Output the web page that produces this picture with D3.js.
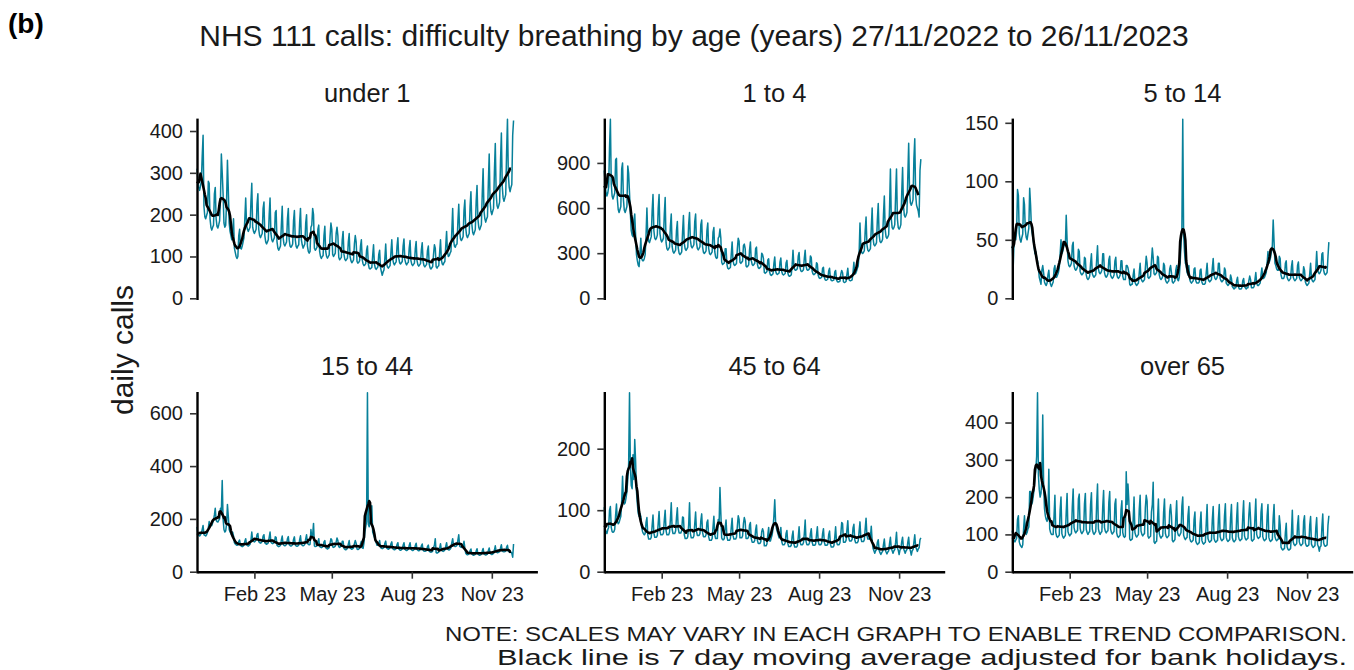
<!DOCTYPE html>
<html><head><meta charset="utf-8">
<script src="https://cdn.jsdelivr.net/npm/d3@7"></script>
<style>
body{margin:0;background:#fff}
svg{display:block}
text{font-family:"Liberation Sans",Arial,Helvetica,sans-serif}
</style>
</head><body>
<svg id="c" width="1354" height="670"></svg>
<script>
// ---------- data ----------
const startDate = [2022, 10, 27]; // 27/11/2022 (UTC y, m0, d)
const panelTitles = ["under 1", "1 to 4", "5 to 14", "15 to 44", "45 to 64", "over 65"];
const yTicks = [[0,100,200,300,400],[0,300,600,900],[0,50,100,150],[0,200,400,600],[0,100,200],[0,100,200,300,400]];
const xTickDates = ["2023-02-01","2023-05-01","2023-08-01","2023-11-01"];

const under1 = [
310,285,265,258,268,280,340,
390,220,195,190,198,205,280,
275,190,170,163,170,175,250,
265,190,172,168,176,185,240,
345,300,250,180,170,175,230,
330,260,180,160,150,140,160,
190,120,110,100,95,100,150,
165,120,118,125,135,145,190,
240,175,165,160,165,170,230,
275,170,160,155,160,165,225,
250,165,150,145,150,155,215,
230,150,135,130,135,140,200,
240,155,140,135,140,145,205,
210,135,120,115,120,125,175,
220,145,130,125,130,135,190,
215,140,125,122,125,130,185,
210,140,124,120,125,128,180,
215,140,128,120,125,130,180,
200,125,112,108,112,170,175,
215,200,120,115,118,122,165,
175,112,100,95,100,102,150,
172,112,100,96,100,104,148,
180,165,105,100,104,108,155,
170,150,98,92,95,98,140,
160,105,93,90,93,96,135,
155,100,90,85,88,92,130,
150,135,88,84,86,90,125,
140,92,82,78,80,83,115,
125,82,72,70,72,74,102,
128,82,72,69,72,75,105,
115,74,64,55,63,68,95,
130,84,75,72,75,78,110,
140,95,84,80,84,87,125,
145,96,85,82,85,88,125,
142,93,84,80,84,86,120,
138,90,81,78,81,84,118,
136,90,80,77,80,83,116,
133,88,78,75,78,81,114,
125,82,73,70,73,76,106,
128,120,75,72,76,78,110,
140,92,82,80,85,88,125,
160,112,100,102,108,112,160,
215,140,125,122,128,130,185,
225,160,142,138,142,148,210,
235,168,150,145,150,155,220,
255,178,158,152,158,164,232,
270,190,170,164,170,176,250,
310,210,190,182,190,195,275,
345,232,208,200,208,215,305,
370,250,222,215,222,230,328,
395,268,240,232,240,248,350,
428,295,265,255,265,272,390,
425];

const age1to4 = [
850,760,700,680,700,740,1000,
1190,760,680,660,680,700,920,
930,660,590,570,590,610,860,
900,655,585,570,590,610,880,
830,700,560,450,420,410,520,
560,420,290,250,220,210,300,
400,265,250,250,265,290,420,
600,420,380,370,390,410,580,
690,450,400,390,400,420,600,
690,430,390,375,385,400,560,
670,370,330,320,330,340,480,
560,345,310,300,310,320,450,
510,335,300,290,298,308,440,
550,365,328,318,328,340,490,
570,385,345,335,345,356,510,
560,370,332,322,332,343,490,
520,342,306,298,306,316,450,
500,332,298,290,298,308,440,
470,310,275,265,270,400,410,
460,400,240,225,230,235,330,
330,225,200,195,200,205,295,
375,250,225,218,225,232,330,
400,380,240,232,240,248,350,
360,330,215,208,214,222,320,
375,252,225,218,225,233,330,
340,228,204,198,204,210,300,
290,265,172,166,172,178,255,
263,176,157,152,157,163,230,
275,182,163,158,163,168,240,
268,178,160,155,160,165,235,
252,170,150,146,150,156,222,
320,214,190,186,190,198,280,
305,205,182,178,182,190,268,
320,214,190,186,190,198,282,
270,180,162,157,162,168,236,
228,152,136,132,136,141,200,
206,138,123,120,123,128,181,
200,133,119,116,119,123,175,
185,124,110,108,110,114,162,
185,170,110,105,108,112,160,
200,133,119,116,119,123,175,
240,160,165,180,200,215,300,
500,340,305,298,305,316,450,
540,356,320,312,320,330,468,
600,400,357,348,357,370,525,
630,423,378,370,378,392,556,
680,456,408,398,408,422,600,
860,530,470,460,470,490,690,
860,530,470,460,470,490,700,
870,617,552,540,552,572,810,
1030,708,633,618,633,656,930,
1060,690,620,600,580,540,850,
925];

const age5to14 = [
45,26,48,52,50,58,93,
88,55,50,48,52,55,86,
80,58,52,50,55,60,94,
80,60,55,50,45,38,40,
35,32,26,18,15,12,24,
28,22,14,12,11,13,20,
24,15,12,10,12,14,25,
28,18,18,20,22,26,38,
50,38,40,44,48,45,71,
50,32,28,27,28,30,45,
48,28,25,24,25,27,42,
40,23,21,20,21,22,35,
34,20,17,16,17,19,30,
38,21,19,18,19,20,33,
45,25,22,21,22,24,38,
38,22,19,18,19,21,33,
36,20,18,17,18,20,32,
35,21,18,17,18,20,32,
32,19,16,16,16,28,28,
26,22,12,11,12,12,20,
25,14,12,11,12,13,22,
30,17,15,14,15,16,26,
36,30,18,17,18,19,32,
43,35,21,20,21,22,36,
35,20,17,16,17,19,30,
28,16,14,13,14,15,25,
28,22,14,13,14,15,24,
28,16,15,18,30,45,60,
153,55,40,30,28,22,20,
28,16,14,13,14,15,25,
26,15,13,13,13,14,24,
25,14,12,12,12,13,22,
30,17,15,14,15,16,26,
34,20,17,16,17,19,30,
30,17,15,14,15,16,26,
24,13,12,11,12,13,20,
17,10,9,8,9,9,15,
18,10,8,8,8,9,15,
17,10,9,8,9,9,15,
19,16,9,9,9,10,16,
22,13,11,11,12,13,20,
26,17,17,18,20,22,30,
40,30,32,35,40,45,67,
48,30,28,25,24,24,36,
34,20,17,17,17,19,30,
32,18,16,15,16,17,27,
32,18,16,15,16,17,28,
31,18,16,15,16,17,27,
24,14,12,11,12,13,21,
30,17,15,14,15,16,26,
40,25,22,21,22,24,38,
39,24,21,20,21,22,36,
48];

const age15to44 = [
170,140,138,135,140,145,160,
175,140,138,135,140,148,165,
190,170,175,175,185,195,215,
240,195,190,188,195,200,240,
230,345,200,160,150,155,180,
255,210,160,150,145,140,150,
135,110,105,102,100,102,115,
120,100,97,95,97,100,115,
125,102,99,97,100,104,118,
150,118,115,113,116,120,140,
145,114,110,108,110,115,135,
140,110,106,104,106,110,130,
150,112,108,106,108,112,132,
130,100,97,95,97,100,120,
135,104,100,98,100,104,125,
133,102,99,97,99,102,122,
132,101,98,96,98,101,120,
136,104,100,98,100,104,124,
140,108,104,102,104,160,130,
140,183,98,95,96,98,112,
125,96,93,91,93,96,113,
118,91,88,86,88,91,108,
125,120,94,92,94,97,112,
128,118,95,92,95,98,115,
115,88,85,83,85,88,104,
118,90,87,85,87,90,106,
118,108,86,84,86,89,105,
115,90,88,110,150,170,190,
678,180,170,190,215,250,150,
140,130,120,110,100,100,105,
118,92,89,87,89,92,108,
116,90,87,85,87,90,106,
113,87,85,83,85,87,103,
110,86,83,81,83,86,100,
110,85,82,80,82,85,99,
110,85,82,80,82,85,99,
108,84,81,79,81,84,98,
105,81,78,77,78,81,95,
101,78,75,74,75,78,92,
100,125,72,70,72,74,88,
106,82,79,77,79,82,96,
110,86,83,82,85,90,110,
125,100,96,95,97,100,120,
140,97,94,92,94,97,115,
90,70,66,64,66,68,80,
86,67,64,62,64,66,78,
87,67,64,62,64,66,78,
88,68,65,63,65,67,80,
90,70,67,65,67,69,82,
98,76,73,72,74,76,90,
102,79,76,75,76,79,93,
100,78,75,74,75,70,55,
105];

const age45to64 = [
105,70,65,62,68,72,100,
106,72,65,64,65,69,92,
110,82,78,80,85,90,115,
155,115,110,112,120,130,150,
175,291,170,140,135,190,150,
215,180,130,110,95,90,95,
90,72,65,62,60,62,80,
88,60,53,53,53,56,75,
92,63,56,56,56,59,79,
98,66,60,60,60,63,84,
100,67,60,60,60,64,85,
112,69,62,62,62,66,88,
104,70,63,63,63,67,89,
88,60,54,54,54,57,76,
112,62,55,55,55,58,78,
97,66,59,59,59,62,83,
94,64,57,57,57,60,80,
84,57,51,51,51,54,72,
90,60,54,54,54,85,77,
137,95,55,52,52,54,72,
84,57,51,51,51,54,72,
87,59,53,53,53,56,74,
91,85,55,55,55,58,78,
88,82,54,54,54,57,76,
80,54,48,48,48,51,68,
76,51,46,46,46,49,65,
70,65,42,42,42,45,60,
72,50,50,55,60,70,90,
117,80,70,65,60,55,60,
72,49,44,44,44,47,62,
67,46,41,41,41,43,58,
66,45,40,40,40,42,56,
73,49,44,44,44,47,62,
84,49,44,44,44,47,62,
70,48,43,43,43,45,60,
73,49,44,44,44,47,62,
70,48,43,43,43,45,60,
66,45,40,40,40,42,56,
73,49,44,44,44,47,62,
80,78,48,48,48,51,68,
83,56,50,50,50,53,71,
77,52,47,47,47,50,66,
81,55,49,49,49,52,70,
87,59,53,53,53,56,74,
50,38,34,30,34,36,48,
52,35,31,28,31,33,44,
53,36,32,29,32,34,46,
56,38,34,30,34,36,48,
64,39,35,28,35,37,49,
56,38,34,30,34,36,48,
56,38,34,27,34,36,48,
60,41,37,33,37,39,52,
55];

const over65 = [
110,95,85,80,85,90,140,
150,80,72,68,65,72,115,
150,110,100,105,115,120,215,
215,180,185,200,220,250,270,
310,480,260,220,200,210,250,
420,240,170,150,140,135,150,
275,115,105,100,100,100,150,
205,105,95,92,95,98,165,
200,102,94,90,94,97,160,
210,108,100,96,100,102,175,
222,118,108,104,108,110,195,
208,116,106,102,106,110,182,
210,114,105,100,105,108,180,
212,114,104,100,104,108,182,
235,115,105,100,105,108,175,
218,118,108,104,108,110,186,
215,115,105,101,105,108,182,
195,104,95,92,95,98,165,
190,105,95,92,95,268,180,
235,190,88,84,86,88,140,
200,105,97,93,97,99,168,
205,109,100,96,100,102,172,
205,190,95,90,93,95,160,
180,240,80,76,80,82,140,
195,102,94,90,94,96,160,
195,103,94,91,94,97,162,
180,150,84,80,83,86,145,
190,105,98,96,100,105,175,
200,98,90,86,90,92,150,
175,90,82,80,82,85,140,
160,82,76,73,76,78,130,
160,84,77,74,77,79,130,
180,89,82,79,82,84,140,
175,89,82,79,82,84,142,
180,94,86,83,86,88,150,
182,92,84,81,84,86,145,
180,91,83,80,83,86,145,
185,94,86,83,86,88,148,
190,96,88,85,88,90,152,
185,140,85,82,85,87,146,
195,100,92,89,92,94,160,
182,94,86,83,86,88,150,
180,92,84,81,84,86,145,
180,94,86,83,86,88,150,
125,66,61,58,61,62,105,
130,66,60,58,60,62,104,
165,80,73,70,73,75,125,
150,80,73,70,73,75,135,
150,77,70,68,70,72,125,
148,74,68,65,68,70,118,
145,73,67,55,67,69,120,
155,77,70,68,70,72,125,
150];

const series = [under1, age1to4, age5to14, age15to44, age45to64, over65];

// ---------- layout ----------
const svg = d3.select("#c");
const colX = [197, 604.3, 1012.3];
const rowTop = [119.3, 392.7];
const pw = 340.4, ph = 179;
const teal = "#07809a";
const ink = "#1a1a1a";

const t0 = Date.UTC(startDate[0], startDate[1], startDate[2]);
const dayDate = i => new Date(t0 + i * 864e5);
const x = d3.scaleUtc()
  .domain([new Date(t0), new Date(Date.UTC(2023, 11, 23, 10))])
  .range([0, pw]);

// centred 7-day moving average (window truncated at the start, omitted at the end)
function movingAvg(v) {
  const out = [];
  for (let i = 0; i < v.length - 3; i++) {
    const lo = Math.max(0, i - 3), hi = i + 3;
    out.push({ i, v: d3.mean(v.slice(lo, hi + 1)) });
  }
  return out;
}

series.forEach((vals, p) => {
  const col = p % 3, row = Math.floor(p / 3);
  const g = svg.append("g").attr("transform", `translate(${colX[col]},${rowTop[row]})`);
  const y = d3.scaleLinear().domain([0, d3.max(vals)]).range([ph, 0]);

  // daily line
  g.append("path")
    .datum(vals)
    .attr("fill", "none")
    .attr("stroke", teal)
    .attr("stroke-width", 1.5)
    .attr("stroke-linejoin", "round")
    .attr("d", d3.line().x((d, i) => x(dayDate(i))).y(d => y(d)));

  // moving average
  g.append("path")
    .datum(movingAvg(vals))
    .attr("fill", "none")
    .attr("stroke", "#000")
    .attr("stroke-width", 2.6)
    .attr("stroke-linejoin", "round")
    .attr("d", d3.line().x(d => x(dayDate(d.i))).y(d => y(d.v)));

  // y axis
  const ya = g.append("g").call(
    d3.axisLeft(y).tickValues(yTicks[p]).tickSize(7).tickPadding(7).tickSizeOuter(0));
  ya.select(".domain").attr("stroke", "#000").attr("stroke-width", 2.4).attr("stroke-linecap", "square");
  ya.selectAll(".tick line").attr("stroke", "#333").attr("stroke-width", 1.6);
  ya.selectAll(".tick text").attr("font-size", 20).attr("fill", ink)
    .attr("font-family", '"Liberation Sans",Arial,sans-serif');

  // x axis (bottom row only)
  if (row === 1) {
    const xa = g.append("g").attr("transform", `translate(0,${ph})`).call(
      d3.axisBottom(x)
        .tickValues(xTickDates.map(s => new Date(s + "T00:00:00Z")))
        .tickFormat(d3.utcFormat("%b %y"))
        .tickSize(7).tickPadding(8).tickSizeOuter(0));
    xa.select(".domain").attr("stroke", "#000").attr("stroke-width", 2.4);
    xa.selectAll(".tick line").attr("stroke", "#333").attr("stroke-width", 1.6);
    xa.selectAll(".tick text").attr("font-size", 20).attr("fill", ink)
      .attr("font-family", '"Liberation Sans",Arial,sans-serif');
  }

  // strip title
  g.append("text")
    .attr("x", pw / 2).attr("y", -17.5)
    .attr("text-anchor", "middle")
    .attr("font-size", 25.5).attr("fill", ink)
    .text(panelTitles[p]);
});

// titles and notes
svg.append("text").attr("x", 8).attr("y", 33)
  .attr("font-size", 28).attr("font-weight", "bold").attr("fill", "#000").text("(b)");
svg.append("text").attr("x", 694).attr("y", 46).attr("text-anchor", "middle")
  .attr("font-size", 30).attr("fill", ink)
  .text("NHS 111 calls: difficulty breathing by age (years) 27/11/2022 to 26/11/2023");
svg.append("text").attr("transform", "translate(133,350) rotate(-90)")
  .attr("text-anchor", "middle").attr("font-size", 30).attr("fill", ink).text("daily calls");
svg.append("text").attr("x", 1347).attr("y", 641).attr("text-anchor", "end")
  .attr("font-size", 21).attr("fill", ink)
  .attr("textLength", 902).attr("lengthAdjust", "spacingAndGlyphs")
  .text("NOTE: SCALES MAY VARY IN EACH GRAPH TO ENABLE TREND COMPARISON.");
svg.append("text").attr("x", 1347).attr("y", 665).attr("text-anchor", "end")
  .attr("font-size", 22).attr("fill", ink)
  .attr("textLength", 850).attr("lengthAdjust", "spacingAndGlyphs")
  .text("Black line is 7 day moving average adjusted for bank holidays.");
</script>
</body></html>
